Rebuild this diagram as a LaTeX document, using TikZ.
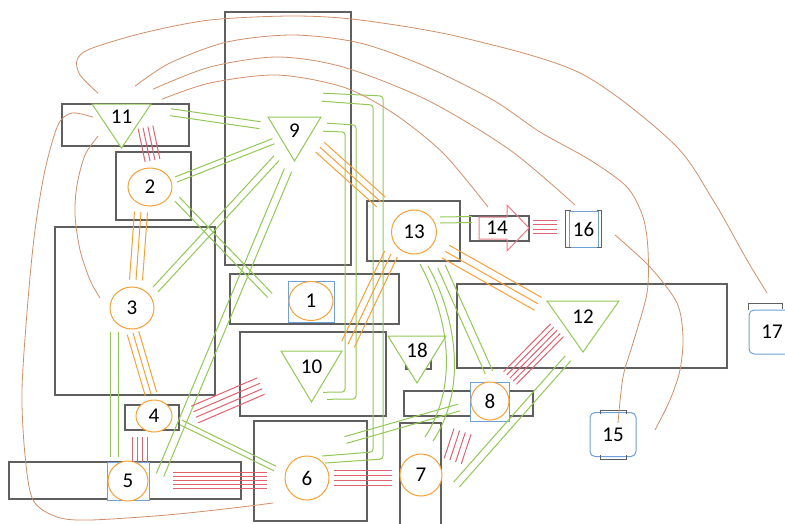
\documentclass[tikz,border=0pt]{standalone}
\usepackage{fontspec}
\setmainfont{Carlito}
\usetikzlibrary{calc,shapes.geometric}
\definecolor{cgray}{RGB}{95,95,95}
\definecolor{cgreen}{RGB}{146,200,86}
\definecolor{corange}{RGB}{247,160,55}
\definecolor{cred}{RGB}{224,98,112}
\definecolor{cbrown}{RGB}{208,142,105}
\definecolor{cblue}{RGB}{112,160,218}
\definecolor{cpink}{RGB}{232,125,135}

% n parallel lines between two points
\newcommand\bund[5]{%
  \coordinate (bP) at #4;
  \coordinate (bQ) at #5;
  \foreach \k in {1,...,#2}{%
    \pgfmathsetmacro\off{(\k-(#2+1)/2)*#3}
    \draw[#1] ($(bP)!\off pt!90:(bQ)$) -- ($(bQ)!\off pt!-90:(bP)$);
  }%
}

\begin{document}
\begin{tikzpicture}[
                    x=1pt, y=-1pt,
                    lbl/.style={font=\fontsize{21}{24}\selectfont, inner sep=0pt},
                    box/.style={draw=cgray, line width=1.3pt, inner sep=0pt},
                    bbox/.style={draw=cblue, line width=1pt, fill=white, lbl},
                    circ/.style={ellipse, draw=corange, line width=1pt, fill=white, lbl},
                    tri/.style={draw=cgreen, line width=1pt, fill=white},
                    tab/.style={draw=cgray, line width=1pt},
                    gline/.style={draw=cgreen, line width=1pt},
                    oline/.style={draw=corange, line width=1pt},
                    rline/.style={draw=cred, line width=1pt},
                    bcurve/.style={draw=cbrown, line width=0.8pt},
                    arr/.style={draw=cpink, line width=1pt}
                    ]
                    \useasboundingbox (0,0) rectangle (785,523);

                    % grey frames
                    \node [box, minimum width=126, minimum height=253] (r9) at (288,138.5) {};
                    \node [box, minimum width=127, minimum height=42] (r11) at (125.5,125) {};
                    \node [box, minimum width=75, minimum height=68] (r2) at (153.5,186) {};
                    \node [box, minimum width=160, minimum height=168] (r3) at (135,311) {};
                    \node [box, minimum width=169, minimum height=50] (r1) at (314.5,299) {};
                    \node [box, minimum width=146, minimum height=84] (r10) at (313,374) {};
                    \node [box, minimum width=93, minimum height=60] (r13) at (413.5,231) {};
                    \node [box, minimum width=59, minimum height=25] (r14) at (499.5,228.5) {};
                    \node [box, minimum width=270, minimum height=84] (r12) at (592,326) {};
                    \node [box, minimum width=54, minimum height=25] (r4) at (152,417.5) {};
                    \node [box, minimum width=232, minimum height=37] (r5) at (125,480.5) {};
                    \node [box, minimum width=113, minimum height=100] (r6) at (310.5,471) {};
                    \node [box, minimum width=41, minimum height=110] (r7) at (420.5,478) {};
                    \node [box, minimum width=129, minimum height=25] (r8) at (468.5,403.5) {};
                    \node [box, minimum width=25, minimum height=9] (r18) at (418.5,364.5) {};

                    % blue boxes
                    \node [bbox, minimum width=46, minimum height=41] (q1) at (311,301.5) {};
                    \node [bbox, minimum width=42, minimum height=38] (q5) at (128,481) {};
                    \node [bbox, minimum width=39, minimum height=39] (q8) at (489.5,401.5) {};
                    \node [bbox, minimum width=29, minimum height=36] (q16) at (583.5,229) {16};
                    \node [bbox, rounded corners=5pt, minimum width=46, minimum height=44] (q17) at (772,332) {17};
                    \node [bbox, rounded corners=5pt, minimum width=46, minimum height=44] (q15) at (613,434.5) {15};
                    \draw[tab] ($(q16.north west)+(2,0)$) -- ++(-5,0) |- ($(q16.south west)+(2,0)$);
                    \draw[tab] ($(q16.north east)+(-2,0)$) -- ++(5,0) |- ($(q16.south east)+(-2,0)$);
                    \draw[tab] (q17.north west) -- ++(0,-6) -- ++(34,0) -- ++(0,5);
                    \draw[tab] ($(q15.north)+(-13,2)$) -- ++(0,-4) -- ++(26,0) -- ++(0,4);
                    \draw[tab] ($(q15.south)+(-13,-2)$) -- ++(0,4) -- ++(26,0) -- ++(0,-4);

                    % triangles
                    \foreach \n/\x/\y/\w/\h in {11/121.5/104/59/44, 9/294.5/117/53/44, 12/583/301/72/51, 10/311.5/351/61/51, 18/417/336/58/47}{
                        \draw[tri] (\x-\w/2,\y) -- (\x+\w/2,\y) -- (\x,\y+\h) -- cycle;
                        \node [lbl] (t\n) at (\x,\y+0.3*\h) {\n};
                    }

                    % circles
                    \node [circ, minimum width=44, minimum height=39] (c1) at (311,301) {1};
                    \node [circ, minimum width=44, minimum height=38] (c2) at (150,187) {2};
                    \node [circ, minimum width=44, minimum height=42] (c3) at (132,308) {3};
                    \node [circ, minimum width=36, minimum height=32] (c4) at (154,416) {4};
                    \node [circ, minimum width=40, minimum height=40] (c5) at (128,481) {5};
                    \node [circ, minimum width=44, minimum height=44] (c6) at (307,478) {6};
                    \node [circ, minimum width=42, minimum height=42] (c7) at (421,475) {7};
                    \node [circ, minimum width=38, minimum height=38] (c8) at (490,401) {8};
                    \node [circ, minimum width=45, minimum height=44] (c13) at (414,232) {13};

                    % block arrow
                    \node [lbl] (a14) at (497,228) {14};
                    \draw[arr] ($(a14)+(-18,-11)$) -- ++(28,0) -- ++(0,-12) -- ++(22,23) -- ++(-22,23) -- ++(0,-12) -- ++(-28,0) -- cycle;

                    % green pairs
                    \bund{gline}{2}{7}{($(t11)+(49,-5)$)}{($(t9)+(-34.5,-5)$)}
                    \bund{gline}{2}{5.5}{($(c2)+(26,-7.5)$)}{($(t9)+(-21,11)$)}
                    \bund{gline}{2}{7}{($(t9)+(-18,28)$)}{($(c3)+(23.5,-18.5)$)}
                    \bund{gline}{2}{8}{($(t9)+(-6.5,40)$)}{($(c5)+(32,-6)$)}
                    \bund{gline}{2}{6}{($(c2)+(27,12)$)}{($(c1)+(-41,-5.5)$)}
                    \bund{gline}{2}{8}{($(c3)+(-18,23.5)$)}{($(c5)+(-14,-24)$)}
                    \bund{gline}{2}{5}{($(c4)+(27,6.5)$)}{($(c6)+(-32,-9.5)$)}
                    \bund{gline}{2}{7}{($(c6)+(38.5,-38)$)}{($(c8)+(-31,6.5)$)}
                    \bund{gline}{2}{6}{($(c13)+(26,-12)$)}{($(a14)+(-25,-8.5)$)}
                    \bund{gline}{2}{8}{($(c13)+(27.5,34.5)$)}{($(c8)+(-1,-28.5)$)}
                    \bund{gline}{2}{7.5}{($(t12)+(-15,42)$)}{($(c7)+(35.5,9.5)$)}
                    \draw[gline, rounded corners=3] ($(t9)+(28.5,-37)$) -- (383,96) -- (383,459) -- ($(c6)+(18,-15)$);
                    \draw[gline, rounded corners=3] ($(t9)+(27.5,-29)$) -- (373,105) -- (373,452) -- ($(c6)+(15,-22)$);
                    \draw[gline, rounded corners=3] ($(t9)+(32.5,-7)$) -- (356,125) -- (356,399) -- ($(t10)+(15.5,33)$);
                    \draw[gline, rounded corners=3] ($(t9)+(28.5,1)$) -- (345,132) -- (345,392) -- ($(t10)+(11.5,26)$);
                    \draw[gline] ($(c13)+(6,32)$) .. controls (445,310) and (462,380) .. ($(c7)+(4,-38)$);
                    \draw[gline] ($(c13)+(14,34)$) .. controls (453,310) and (470,385) .. ($(c7)+(12,-34)$);

                    % orange triples
                    \bund{oline}{3}{6.5}{($(c2)+(-9,25)$)}{($(c3)+(4,-28)$)}
                    \bund{oline}{3}{6}{($(c3)+(1,25)$)}{($(c4)+(-3,-22)$)}
                    \bund{oline}{3}{6.5}{($(t9)+(25.5,17)$)}{($(c13)+(-33,-30)$)}
                    \bund{oline}{3}{7}{($(c13)+(-23,22)$)}{($(t10)+(36.5,-22)$)}
                    \bund{oline}{3}{7.3}{($(c13)+(31.5,19.5)$)}{($(t12)+(-45,-12.5)$)}

                    % red bundles
                    \bund{rline}{4}{5}{($(t11)+(24,10)$)}{($(c2)+(2.5,-26.5)$)}
                    \bund{rline}{4}{4.5}{($(a14)+(36,-1.25)$)}{($(q16)+(-26.5,-2.25)$)}
                    \bund{rline}{4}{6}{($(c4)+(40.75,-1.5)$)}{($(t10)+(-50.5,19.75)$)}
                    \bund{rline}{4}{4.7}{($(c4)+(-14,21)$)}{($(c5)+(12,-19)$)}
                    \bund{rline}{5}{4}{($(c5)+(45,-0.5)$)}{($(c6)+(-40,2.5)$)}
                    \bund{rline}{4}{5.3}{($(c6)+(27,0)$)}{($(c7)+(-29,3)$)}
                    \bund{rline}{4}{6}{($(c8)+(-27.5,30.5)$)}{($(c7)+(31.75,-14)$)}
                    \bund{rline}{5}{4.5}{($(c8)+(20,-23)$)}{($(t12)+(-26,14)$)}

                    % brown curves
                    \coordinate (s17) at ($(t11)+(-23.5,-24)$);
                    \coordinate (e17) at ($(q17)+(-5,-39)$);
                    \coordinate (s15) at ($(t11)+(13.5,-31)$);
                    \coordinate (e15) at ($(q15)+(5,-11.5)$);
                    \coordinate (s16) at ($(t11)+(31.5,-28)$);
                    \coordinate (e16) at ($(q16)+(-8.5,-24)$);
                    \coordinate (s14) at ($(t11)+(40.5,-18)$);
                    \coordinate (e14) at ($(a14)+(-9,-21)$);
                    \coordinate (s6) at ($(t11)+(-28.5,0)$);
                    \coordinate (e6) at ($(c6)+(-34,25)$);
                    \coordinate (s3) at ($(t11)+(-23.5,19)$);
                    \coordinate (e3) at ($(c3)+(-32,-10)$);
                    \coordinate (sq) at ($(q16)+(31.5,6)$);
                    \coordinate (eq) at ($(q15)+(42,-4.5)$);
                    \draw[bcurve] plot[smooth] coordinates {(s17) (80,75) (77,60) (90,49) (143,33) (210,20) (293,16) (360,20) (460,37) (580,73) (673,143) (713,200) (747,260) (e17)};
                    \draw[bcurve] plot[smooth] coordinates {(s15) (170,63) (227,42) (293,35) (360,43) (427,67) (493,100) (540,132) (590,160) (627,187) (643,217) (648,250) (647,293) (633,343) (623,377) (e15)};
                    \draw[bcurve] plot[smooth] coordinates {(s16) (210,67) (277,57) (343,67) (427,100) (510,150) (e16)};
                    \draw[bcurve] plot[smooth] coordinates {(s14) (210,83) (277,75) (343,87) (393,113) (443,153) (e14)};
                    \draw[bcurve] plot[smooth] coordinates {(s6) (72,113) (58,125) (45,170) (35,230) (28,300) (22,390) (25,455) (33,500) (57,517) (90,520) (167,515) (233,508) (e6)};
                    \draw[bcurve] plot[smooth] coordinates {(s3) (85,155) (77,185) (75,215) (80,250) (90,280) (e3)};
                    \draw[bcurve] plot[smooth] coordinates {(sq) (650,267) (677,303) (683,337) (680,370) (670,400) (eq)};
                \end{tikzpicture}
\end{document}
